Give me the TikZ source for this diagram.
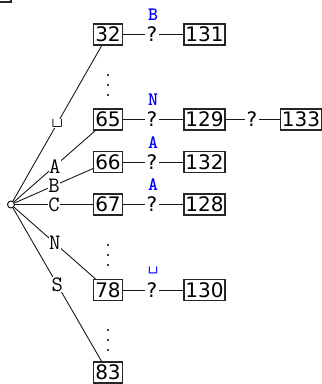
\documentclass[tikz,border=0pt]{standalone}
\usepackage{fontspec}
\newfontfamily\numfont{DejaVu Sans}
\begin{document}
\begin{tikzpicture}[x=1pt,y=-1pt,
  num/.style={draw=black!85, line width=1.1pt, font=\numfont\fontsize{20}{24}\selectfont, inner xsep=1.4pt, inner ysep=0pt, minimum height=21pt},
  qm/.style={font=\numfont\fontsize{20}{24}\selectfont, inner xsep=1.5pt, inner ysep=0pt},
  lab/.style={font=\ttfamily\fontsize{22}{26}\selectfont, fill=white, inner sep=0.4pt},
  tag/.style={font=\ttfamily\bfseries\fontsize{19}{23}\selectfont, text=blue, inner sep=0pt},
  conn/.style={line width=0.9pt, draw=black!90},
  dotmark/.style={fill=black, circle, inner sep=0pt, minimum size=2.4pt}]
\useasboundingbox (0,0) rectangle (322,384);
% clipped box fragment at the top left
\draw[line width=1.1pt, black!85] (-20,-20) rectangle (11,2);
% root
\node[draw, circle, minimum size=7pt, inner sep=0pt, line width=0.9pt] (r) at (11,204.5) {};
% first level boxes
\node[num] (b32) at (108,34.5) {32};
\node[num] (b65) at (108,119.5) {65};
\node[num] (b66) at (108,162) {66};
\node[num] (b67) at (108,204.5) {67};
\node[num] (b78) at (108,290) {78};
\node[num] (b83) at (108,372.5) {83};
% dots
\foreach \y [count=\i] in {75,85,95,245,255,265,330,340,350}
  \node[dotmark] (d\i) at (108,\y) {};
% edges from root
\draw[conn] (r) -- node[lab] (l32) {\textvisiblespace} (b32);
\draw[conn] (r) -- node[lab] (l65) {A} (b65);
\draw[conn] (r) -- node[lab] (l66) {B} (b66);
\draw[conn] (r) -- node[lab] (l67) {C} (b67);
\draw[conn] (r) -- node[lab] (l78) {N} (b78);
\draw[conn] (r) -- node[lab] (l83) {S} (b83);
% question nodes
\node[qm] (q32) at (152,34.5) {?};
\node[qm] (q65) at (152,119.5) {?};
\node[qm] (q66) at (152,162) {?};
\node[qm] (q67) at (152,204.5) {?};
\node[qm] (q78) at (152,290) {?};
\node[qm] (q65b) at (252,119.5) {?};
% blue tags
\node[tag] (t32) at (153,15) {B};
\node[tag] (t65) at (153,100) {N};
\node[tag] (t66) at (153,142.5) {A};
\node[tag] (t67) at (153,185) {A};
\node[tag] (t78) at (153,270.5) {\textvisiblespace};
% second level boxes
\node[num] (b131) at (204.5,34.5) {131};
\node[num] (b129) at (204.5,119.5) {129};
\node[num] (b132) at (204.5,162) {132};
\node[num] (b128) at (204.5,204.5) {128};
\node[num] (b130) at (204.5,290) {130};
\node[num] (b133) at (301,119.5) {133};
% connectors
\draw[conn] (b32) -- (q32);
\draw[conn] (q32) -- (b131);
\draw[conn] (b65) -- (q65);
\draw[conn] (q65) -- (b129);
\draw[conn] (b129) -- (q65b);
\draw[conn] (q65b) -- (b133);
\draw[conn] (b66) -- (q66);
\draw[conn] (q66) -- (b132);
\draw[conn] (b67) -- (q67);
\draw[conn] (q67) -- (b128);
\draw[conn] (b78) -- (q78);
\draw[conn] (q78) -- (b130);
\end{tikzpicture}
\end{document}
